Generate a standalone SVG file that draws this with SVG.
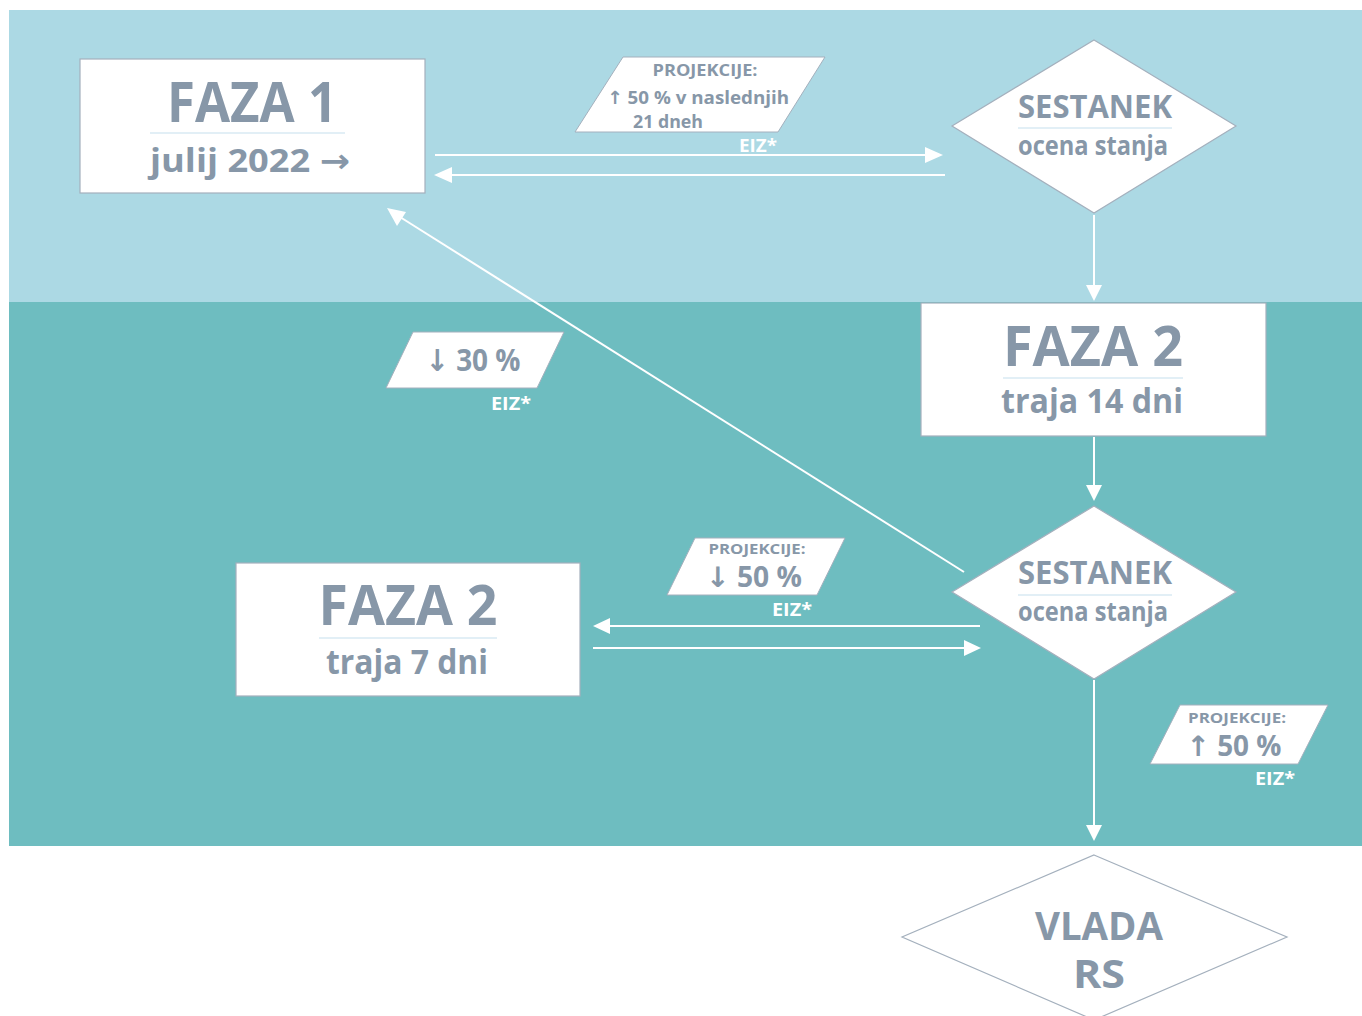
<svg xmlns="http://www.w3.org/2000/svg" width="1362" height="1016" viewBox="0 0 1362 1016">
<style>
.box{fill:#ffffff;stroke:#a4b0bd;stroke-width:1.2}
.para{fill:#ffffff;stroke:#a4b0bd;stroke-width:1}
.t{font-family:"Open Sans","DejaVu Sans",sans-serif;font-weight:700;fill:#8797a8;text-anchor:middle}
.eiz{font-family:"Open Sans","DejaVu Sans",sans-serif;font-weight:700;fill:#ffffff;text-anchor:middle;font-size:17px}
.div{stroke:#d8eaf3;stroke-width:1.5}
.c{stroke:#ffffff;stroke-width:2;fill:none}
.ah{fill:#ffffff}
</style>
<rect x="0" y="0" width="1362" height="1016" fill="#ffffff"/>
<rect x="9" y="10" width="1353" height="292" fill="#acd9e4"/>
<rect x="9" y="302" width="1353" height="544" fill="#6ebdc0"/>

<g id="connectors">
<line class="c" x1="435" y1="155" x2="925" y2="155"/>
<path class="ah" d="M925,147 L943,155 L925,163 Z"/>
<line class="c" x1="945" y1="175" x2="452" y2="175"/>
<path class="ah" d="M452,167 L434,175 L452,183 Z"/>
<line class="c" x1="1094" y1="215" x2="1094" y2="286"/>
<path class="ah" d="M1086,285 L1094,301 L1102,285 Z"/>
<line class="c" x1="1094" y1="437" x2="1094" y2="486"/>
<path class="ah" d="M1086,485 L1094,501 L1102,485 Z"/>
<line class="c" x1="964" y1="572" x2="400" y2="217"/>
<path class="ah" d="M387,208 L406,212 L397,226 Z"/>
<line class="c" x1="980" y1="626" x2="610" y2="626"/>
<path class="ah" d="M610,618 L593,626 L610,634 Z"/>
<line class="c" x1="593" y1="648" x2="964" y2="648"/>
<path class="ah" d="M964,640 L981,648 L964,656 Z"/>
<line class="c" x1="1094" y1="680" x2="1094" y2="826"/>
<path class="ah" d="M1086,825 L1094,841 L1102,825 Z"/>
</g>

<g id="faza1">
<rect class="box" x="80" y="59" width="345" height="134"/>
<text class="t" x="252" y="122" font-size="56" textLength="170" lengthAdjust="spacingAndGlyphs">FAZA 1</text>
<line class="div" x1="150" y1="133" x2="345" y2="133"/>
<text class="t" x="250" y="172" font-size="33" textLength="200" lengthAdjust="spacingAndGlyphs">julij 2022 →</text>
</g>

<g id="projekcije1">
<polygon class="para" points="575,132 623,57 825,57 778,132"/>
<text class="t" x="705" y="76" font-size="16" textLength="105" lengthAdjust="spacingAndGlyphs">PROJEKCIJE:</text>
<text class="t" x="698" y="104" font-size="18" textLength="182" lengthAdjust="spacingAndGlyphs">↑ 50 % v naslednjih</text>
<text class="t" x="668" y="128" font-size="18" textLength="70" lengthAdjust="spacingAndGlyphs">21 dneh</text>
<text class="eiz" x="758" y="152" textLength="38" lengthAdjust="spacingAndGlyphs">EIZ*</text>
</g>

<g id="sestanek1">
<polygon class="box" points="1094,40 1236,126 1094,213 952,126"/>
<text class="t" x="1095" y="118" font-size="32" textLength="154" lengthAdjust="spacingAndGlyphs">SESTANEK</text>
<line class="div" x1="1018" y1="128" x2="1172" y2="128"/>
<text class="t" x="1093" y="155" font-size="26" textLength="150" lengthAdjust="spacingAndGlyphs">ocena stanja</text>
</g>

<g id="faza2a">
<rect class="box" x="921" y="303" width="345" height="133"/>
<text class="t" x="1093" y="366" font-size="56" textLength="180" lengthAdjust="spacingAndGlyphs">FAZA 2</text>
<line class="div" x1="1003" y1="378" x2="1183" y2="378"/>
<text class="t" x="1092" y="413" font-size="34" textLength="182" lengthAdjust="spacingAndGlyphs">traja 14 dni</text>
</g>

<g id="minus30">
<polygon class="para" points="386,388 413,332 564,332 537,388"/>
<text class="t" x="473" y="371" font-size="30" textLength="95" lengthAdjust="spacingAndGlyphs">↓ 30 %</text>
<text class="eiz" x="511" y="410" textLength="40" lengthAdjust="spacingAndGlyphs">EIZ*</text>
</g>

<g id="sestanek2">
<polygon class="box" points="1094,506 1236,592 1094,679 952,592"/>
<text class="t" x="1095" y="584" font-size="32" textLength="154" lengthAdjust="spacingAndGlyphs">SESTANEK</text>
<line class="div" x1="1018" y1="595" x2="1172" y2="595"/>
<text class="t" x="1093" y="621" font-size="26" textLength="150" lengthAdjust="spacingAndGlyphs">ocena stanja</text>
</g>

<g id="faza2b">
<rect class="box" x="236" y="563" width="344" height="133"/>
<text class="t" x="408" y="625" font-size="56" textLength="179" lengthAdjust="spacingAndGlyphs">FAZA 2</text>
<line class="div" x1="319" y1="638" x2="497" y2="638"/>
<text class="t" x="407" y="674" font-size="34" textLength="162" lengthAdjust="spacingAndGlyphs">traja 7 dni</text>
</g>

<g id="projekcije2">
<polygon class="para" points="667,595 695,538 845,538 817,595"/>
<text class="t" x="757" y="554" font-size="15" textLength="97" lengthAdjust="spacingAndGlyphs">PROJEKCIJE:</text>
<text class="t" x="754" y="587" font-size="28" textLength="96" lengthAdjust="spacingAndGlyphs">↓ 50 %</text>
<text class="eiz" x="792" y="616" textLength="40" lengthAdjust="spacingAndGlyphs">EIZ*</text>
</g>

<g id="projekcije3">
<polygon class="para" points="1150,764 1180,705 1328,705 1298,764"/>
<text class="t" x="1237" y="723" font-size="15" textLength="98" lengthAdjust="spacingAndGlyphs">PROJEKCIJE:</text>
<text class="t" x="1234" y="756" font-size="28" textLength="95" lengthAdjust="spacingAndGlyphs">↑ 50 %</text>
<text class="eiz" x="1275" y="785" textLength="40" lengthAdjust="spacingAndGlyphs">EIZ*</text>
</g>

<g id="vlada">
<polygon class="box" points="1094,855 1287,937 1094,1020 902,937"/>
<text class="t" x="1099" y="940" font-size="40" textLength="128" lengthAdjust="spacingAndGlyphs">VLADA</text>
<text class="t" x="1099" y="988" font-size="40" textLength="52" lengthAdjust="spacingAndGlyphs">RS</text>
</g>
</svg>
